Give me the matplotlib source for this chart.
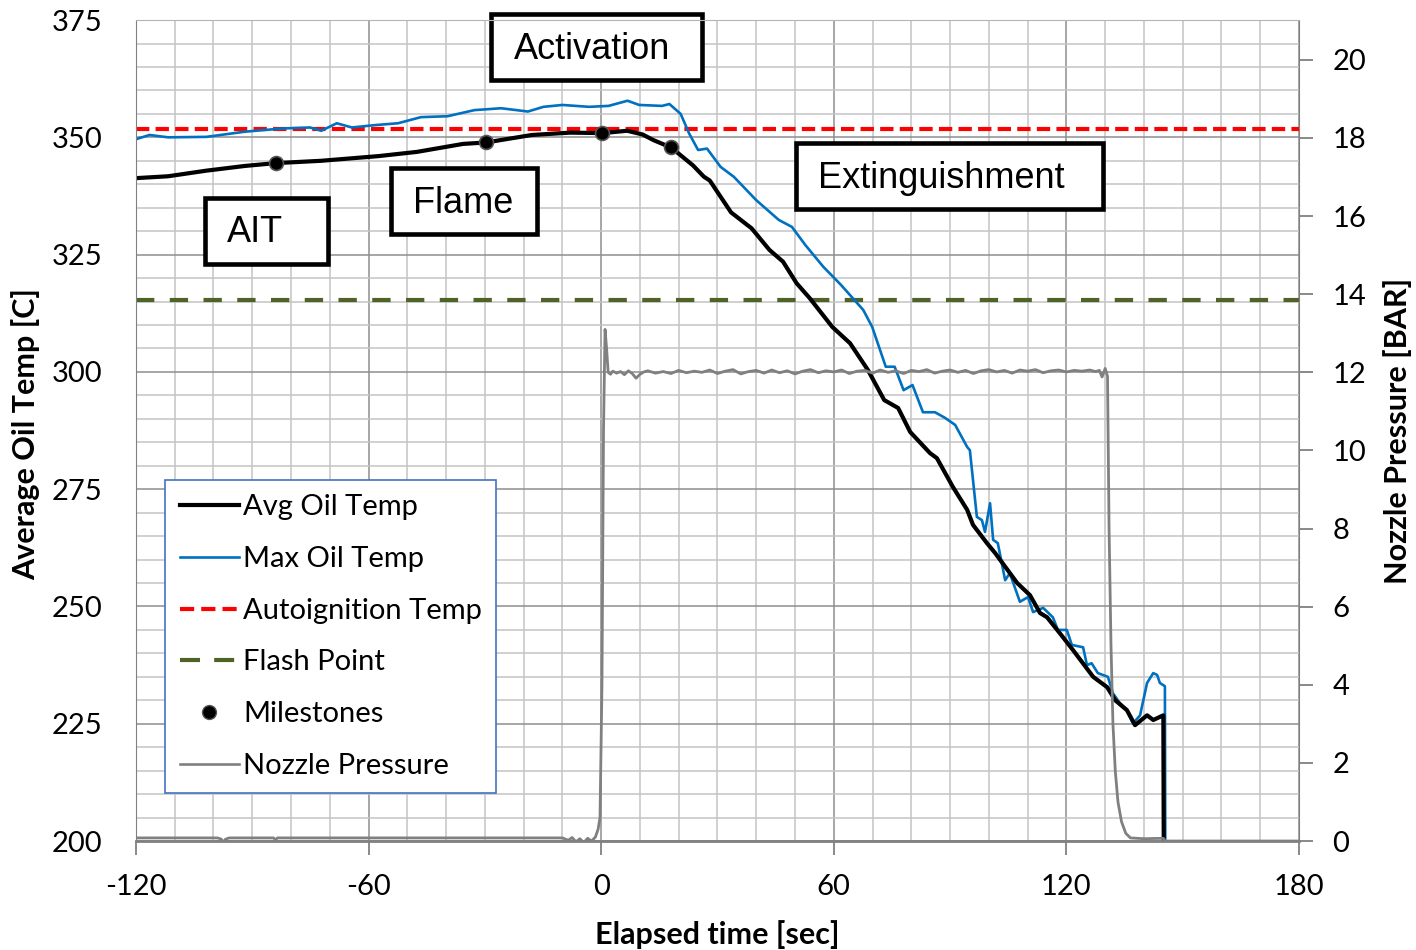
import numpy as np
import matplotlib
matplotlib.use('Agg')
import matplotlib.pyplot as plt
import matplotlib.ticker as mticker
from matplotlib.patches import Rectangle
from matplotlib.lines import Line2D

# ---- data ----
avg_t = [-120, -111.7, -101.8, -91.9, -84, -72.2, -57.4, -47.5, -35.6, -29.7, -17.9, -8,
         0.4, 6.7, 10.7, 13.5, 18.1, 23.7, 26.5, 28, 33.5, 38.8, 43.4, 46.9, 50.4, 53.8,
         59.6, 64.2, 68.8, 73.0, 76.6, 79.7, 84.8, 86.6, 90.7, 94.4, 95.9, 99.5, 101.6,
         107.3, 110.6, 113.2, 115, 118.3, 121.7, 126.9, 130.5, 132.6, 135.6, 137.7, 140.8,
         142.4, 145.0, 145.1]
avg_temp = [341.3, 341.7, 342.9, 343.9, 344.5, 345.0, 346.0, 346.9, 348.6, 348.9, 350.5, 351.0,
            350.9, 351.4, 350.6, 349.4, 347.8, 344.0, 341.6, 340.8, 334.0, 330.6, 326.0, 323.5,
            318.9, 315.7, 309.6, 306.1, 300.4, 294.0, 292.3, 287.2, 282.7, 281.6, 275.5, 270.6,
            267.4, 263.5, 261.4, 255.0, 252.4, 248.6, 247.7, 244.3, 240.7, 235.0, 232.8, 230.0,
            227.9, 224.7, 226.8, 225.8, 226.8, 200.0]

max_t = [-120, -116.5, -111.7, -101.8, -91.9, -82, -75.1, -72.2, -68.2, -64.3, -58.4, -52.4,
         -46.5, -39.6, -32.7, -25.8, -18.9, -14.9, -10, -3.1, 1.9, 6.8, 9.8, 15.7, 17.6, 20.5,
         22.7, 25, 27.3, 30.8, 34.2, 40, 45.8, 49.2, 52.7, 57.3, 61.9, 67.6, 69.9, 73.4, 75.7,
         78, 80.3, 83.0, 86.1, 88.7, 91.3, 94.4, 95.1, 96.9, 98.2, 99, 100.3, 101.1, 102.3,
         104.2, 105.4, 108, 110.1, 111.4, 114, 116.5, 117.8, 120.1, 121.4, 124.3, 125.3, 126.5,
         128.1, 129.4, 130.7, 132, 133.8, 135.6, 137.2, 139, 140.8, 142.4, 143.4, 144.1, 145.4,
         145.5]
max_temp = [349.6, 350.5, 350.0, 350.1, 351.2, 351.9, 352.1, 351.4, 353.0, 352.1, 352.6, 353.0,
            354.3, 354.5, 355.8, 356.2, 355.5, 356.5, 356.9, 356.5, 356.7, 357.8, 356.9, 356.7,
            357.1, 355.0, 350.8, 347.3, 347.6, 343.7, 341.6, 336.6, 332.4, 330.9, 327.0, 322.4,
            318.5, 313.2, 309.6, 301.1, 301.1, 296.1, 297.2, 291.4, 291.4, 290.2, 288.7, 284.0,
            283.3, 269.1, 268.4, 265.9, 272.0, 264.2, 263.5, 255.6, 257.1, 251.0, 252.0, 248.8,
            249.7, 247.7, 245.0, 245.0, 241.8, 241.3, 237.5, 237.9, 235.8, 235.4, 235.0, 231.5,
            229.4, 227.9, 225.1, 226.8, 233.7, 235.8, 235.4, 233.7, 233.0, 200.0]

autoignition = 351.7
flash_point = 315.3

milestone_t = [-84, -29.7, 0.3, 18.1]
milestone_temp = [344.5, 349.0, 351.0, 347.9]

press_t = [-120, -99, -98, -97.5, -97, -96, -84.5, -84, -83.5, -10, -8.5, -7.5, -6.5, -5.5,
           -4.5, -3.5, -2.5, -1.5, -0.8, -0.3, 0.2, 0.6, 1.0, 1.4, 1.8, 2.4, 3, 4, 5, 6, 7, 8,
           9, 10, 11, 12, 14, 16, 18, 20, 22, 24, 26, 28, 30, 32, 34, 36, 38, 40, 42, 44, 46,
           48, 50, 52, 54, 56, 58, 60, 62, 64, 66, 68, 70, 72, 74, 76, 78, 80, 82, 84, 86, 88,
           90, 92, 94, 96, 98, 100, 102, 104, 106, 108, 110, 112, 114, 116, 118, 120, 122, 124,
           126, 127.5, 128.5, 129.2, 130, 130.6, 131.0, 131.5, 132.0, 132.6, 133.3, 134.2,
           135.3, 136.5, 140, 145, 145.5, 180]
press_bar = [0.08, 0.08, 0.05, -0.05, 0.04, 0.08, 0.08, 0.03, 0.08, 0.08, 0.02, 0.09, -0.02,
             0.06, -0.04, 0.07, 0.0, 0.1, 0.3, 0.6, 4.0, 10.5, 13.1, 12.6, 12.0, 11.95, 12.03,
             11.98, 12.02, 11.94, 12.04, 11.97, 11.85, 11.95, 12.01, 12.04, 11.98, 12.02, 11.97,
             12.05, 11.99, 12.03, 12.00, 12.06, 11.97, 12.03, 12.07, 11.96, 12.02, 12.05, 11.98,
             12.06, 11.99, 12.04, 11.96, 12.03, 12.07, 11.99, 12.04, 12.01, 12.06, 11.97, 12.03,
             12.05, 11.98, 12.06, 12.00, 12.04, 11.97, 12.05, 12.02, 12.07, 11.98, 12.03, 12.06,
             12.00, 12.05, 11.97, 12.04, 12.07, 12.01, 12.05, 11.98, 12.06, 12.03, 12.07, 11.99,
             12.04, 12.06, 12.01, 12.05, 12.03, 12.06, 12.02, 12.05, 11.88, 12.1, 11.9, 8.0,
             5.0, 3.0, 1.8, 1.0, 0.5, 0.2, 0.08, 0.06, 0.07, 0.0, 0.0]

# ---- figure ----
plt.rcParams['font.family'] = ['Lato', 'DejaVu Sans']
plt.rcParams['axes.unicode_minus'] = False
fig = plt.figure(figsize=(14.16, 9.5), dpi=100)
ax = fig.add_axes([0.096, 0.1147, 0.8214, 0.8642])
ax2 = ax.twinx()

ax.set_xlim(-120, 180)
ax.set_ylim(200, 375)
ax2.set_ylim(0, 21.02)

ax.xaxis.set_major_locator(mticker.MultipleLocator(60))
ax.xaxis.set_minor_locator(mticker.MultipleLocator(10))
ax.yaxis.set_major_locator(mticker.MultipleLocator(25))
ax.yaxis.set_minor_locator(mticker.MultipleLocator(5))
ax2.yaxis.set_major_locator(mticker.MultipleLocator(2))

ax.grid(True, which='minor', color='#C4C4C4', linewidth=1.1)
ax.grid(True, which='major', color='#8E8E8E', linewidth=1.1)
ax.set_axisbelow(True)

# reference lines
ax.axhline(autoignition, color='#FF0000', lw=3.0, dashes=(3.2, 1.5), zorder=3)
ax.axhline(flash_point, color='#4F6228', lw=3.0, dashes=(4.4, 3.7), zorder=3)

ax.plot(max_t, max_temp, color='#0070C0', lw=1.9, zorder=4)
ax.plot(avg_t, avg_temp, color='black', lw=3.0, zorder=5)
ax.plot(milestone_t, milestone_temp, 'o', ms=10, mfc='black', mec='#555555', mew=1.2, zorder=6)

ax2.plot(press_t, press_bar, color='#808080', lw=2.0, zorder=4)

# spines and ticks
for sp in ['left', 'bottom', 'right']:
    ax2.spines[sp].set_color('#808080')
ax2.spines['bottom'].set_linewidth(2)
ax2.spines['top'].set_color('#B4B4B4')
for sp in ax.spines.values():
    sp.set_visible(False)

ax.tick_params(axis='y', which='both', length=0, pad=24, labelsize=21)
ax.tick_params(axis='x', which='major', length=10, color='#808080', width=1.3, pad=14, labelsize=21)
ax.tick_params(axis='x', which='minor', length=0)
ax2.tick_params(axis='y', which='major', length=10, color='#808080', width=1.3, pad=14, labelsize=21)

ax.set_xlabel('Elapsed time [sec]', fontsize=22, fontweight='bold')
ax.xaxis.set_label_coords(0.4996, -0.096)
ax.set_ylabel('Average Oil Temp [C]', fontsize=22, fontweight='bold')
ax.yaxis.set_label_coords(-0.0825, 0.496)
ax2.set_ylabel('Nozzle Pressure [BAR]', fontsize=22, fontweight='bold')
ax2.yaxis.set_label_coords(1.0722, 0.4994)

# milestone text boxes
boxes = [
    ('Activation', -28.4, 362.2, 54.4, 14.1, -22.5, 368.8),
    ('Flame', -54.2, 329.4, 37.6, 14.1, -48.5, 335.9),
    ('AIT', -102.2, 323.0, 31.7, 14.1, -96.5, 329.7),
    ('Extinguishment', 50.2, 334.7, 79.2, 14.1, 55.9, 341.2),
]
for label, bx, by, bw, bh, tx, ty in boxes:
    ax.add_patch(Rectangle((bx, by), bw, bh, facecolor='white', edgecolor='black',
                           lw=3.3, zorder=7, clip_on=False))
    ax.text(tx, ty, label, ha='left', va='center', fontsize=26,
            family='Liberation Sans', zorder=8)

# legend
handles = [
    Line2D([], [], color='black', lw=3.0),
    Line2D([], [], color='#0070C0', lw=1.9),
    Line2D([], [], color='#FF0000', lw=3.0, dashes=(3.4, 1.7)),
    Line2D([], [], color='#4F6228', lw=3.0, dashes=(4.8, 3.4)),
    Line2D([], [], ls='none', marker='o', ms=10, mfc='black', mec='#555555'),
    Line2D([], [], color='#808080', lw=1.9),
]
labels = ['Avg Oil Temp', 'Max Oil Temp', 'Autoignition Temp', 'Flash Point',
          'Milestones', 'Nozzle Pressure']
leg = ax2.legend(handles, labels, loc='upper left', bbox_to_anchor=(0.025, 0.44),
                 borderaxespad=0, fontsize=21, frameon=True, fancybox=False,
                 handlelength=2.05, handletextpad=0.12, labelspacing=0.88,
                 borderpad=0.5, framealpha=1)
leg.get_frame().set_edgecolor('#4472C4')
leg.get_frame().set_linewidth(1.2)
leg.set_zorder(10)

fig.savefig('out.png', dpi=100)
